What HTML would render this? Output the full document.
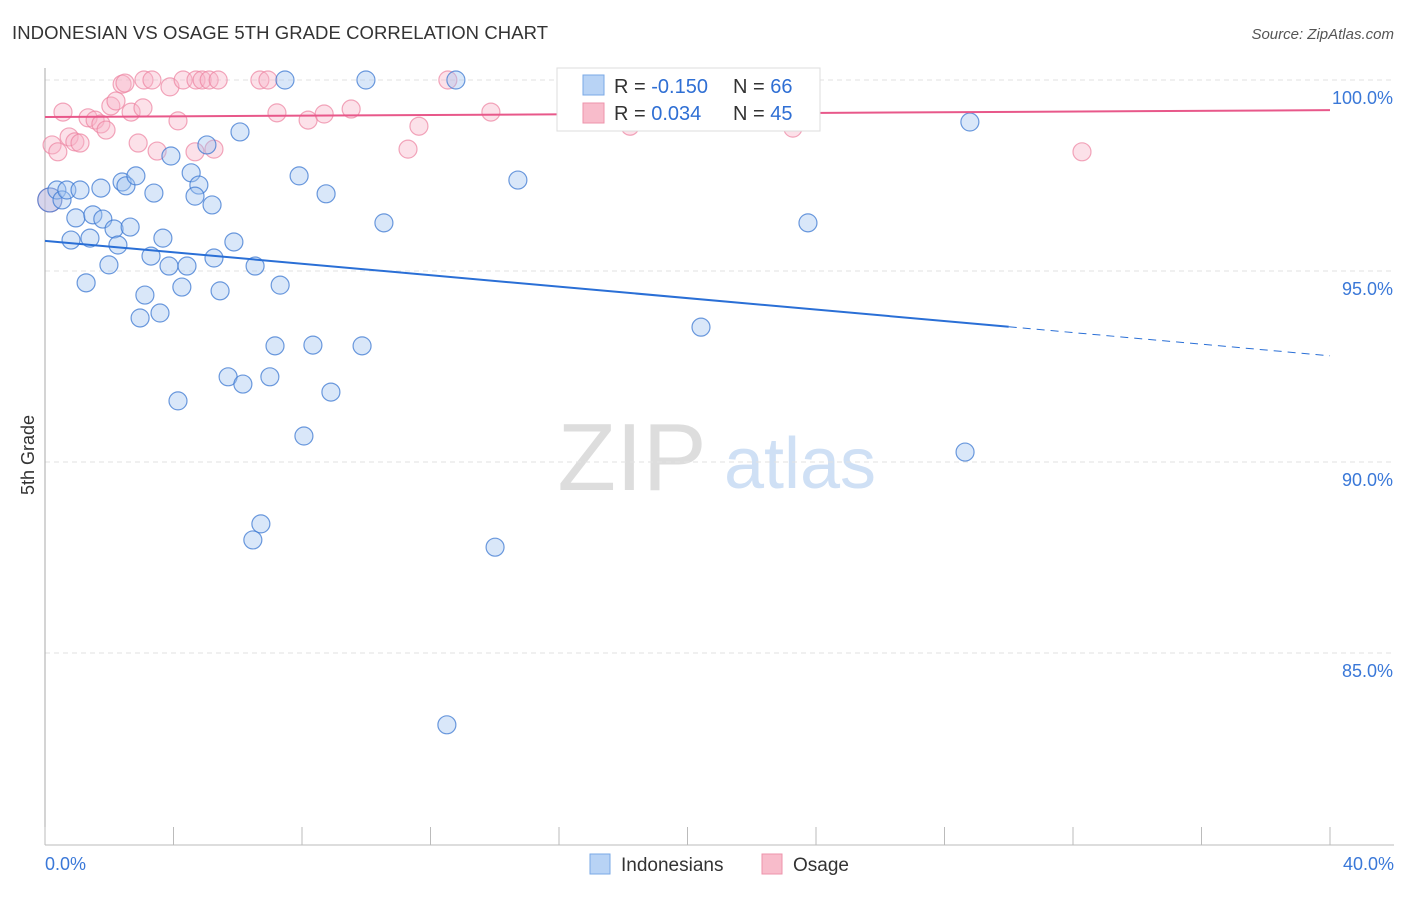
<!DOCTYPE html>
<html><head><meta charset="utf-8"><style>
body{margin:0;background:#fff;font-family:"Liberation Sans",sans-serif;}
svg text{font-family:"Liberation Sans",sans-serif;}
</style></head><body>
<svg id="chart" width="1406" height="892" xmlns="http://www.w3.org/2000/svg">
<text x="12" y="39" font-size="18.5" fill="#333" textLength="536">INDONESIAN VS OSAGE 5TH GRADE CORRELATION CHART</text>
<text x="1394" y="39" font-size="15" fill="#555" text-anchor="end" font-style="italic">Source: ZipAtlas.com</text>
<text x="632" y="490" font-size="96" fill="#ddd" font-family="Liberation Serif" text-anchor="middle">ZIP</text>
<text x="800" y="488" font-size="72" fill="#cfe0f5" text-anchor="middle">atlas</text>
<text transform="translate(34,455) rotate(-90)" font-size="18" fill="#333" text-anchor="middle">5th Grade</text>
<g id="grid"></g><g id="pts"></g><g id="lines"></g>
<g>
<rect x="557" y="68" width="263" height="63" fill="#fff" stroke="#ddd"/>
<rect x="583" y="75" width="21" height="20" fill="#b8d3f5" stroke="#7aa8e6"/>
<rect x="583" y="103" width="21" height="20" fill="#f8bccb" stroke="#ee93ab"/>
<text x="614" y="93" font-size="20" fill="#333">R = <tspan fill="#2f6fd4">-0.150</tspan></text>
<text x="733" y="93" font-size="20" fill="#333">N = <tspan fill="#2f6fd4">66</tspan></text>
<text x="614" y="120" font-size="20" fill="#333">R =  <tspan fill="#2f6fd4">0.034</tspan></text>
<text x="733" y="120" font-size="20" fill="#333">N = <tspan fill="#2f6fd4">45</tspan></text>
</g>
<g>
<rect x="590" y="854" width="20" height="20" fill="#b8d3f5" stroke="#7aa8e6"/>
<text x="621" y="871" font-size="19" fill="#333">Indonesians</text>
<rect x="762" y="854" width="20" height="20" fill="#f8bccb" stroke="#ee93ab"/>
<text x="793" y="871" font-size="19" fill="#333">Osage</text>
</g>
<text x="45" y="870" font-size="18" fill="#3a78d8">0.0%</text>
<text x="1394" y="870" font-size="18" fill="#3a78d8" text-anchor="end">40.0%</text>
</svg>
<script>
const yTicks=[100,95,90,85];
const blueX=[0.15,0.37,0.53,0.68,1.09,1.74,2.40,2.52,2.83,3.39,3.92,4.55,4.79,4.67,5.20,5.04,6.07,7.91,8.75,7.47,9.99,12.79,10.55,14.72,23.75,28.79,0.96,1.49,1.80,2.15,2.65,0.81,1.40,2.27,3.67,5.88,1.99,3.30,3.86,4.42,5.26,6.54,1.28,3.11,4.26,5.45,7.32,2.96,3.58,7.16,8.34,9.87,5.70,6.16,7.00,4.14,8.90,8.06,6.72,6.47,14.01,12.51,20.42,28.64,18.83];
const blueY=[96.86,97.12,96.86,97.12,97.12,97.17,97.33,97.23,97.49,97.04,98.01,97.57,97.25,96.96,96.73,98.30,98.64,97.49,97.02,100,100,100,96.26,97.38,96.26,98.90,96.39,96.47,96.36,96.10,96.15,95.81,95.86,95.68,95.86,95.76,95.16,95.39,95.13,95.13,95.34,95.13,94.69,94.37,94.58,94.48,94.63,93.77,93.90,93.04,93.06,93.04,92.23,92.04,92.23,91.60,91.83,90.68,88.38,87.96,87.77,83.12,93.53,90.26,100];
const pinkX=[0.22,0.40,0.56,0.75,0.93,1.09,1.34,1.56,1.74,1.90,2.05,2.21,2.40,2.49,2.68,2.90,3.05,3.08,3.33,3.49,3.89,4.14,4.30,4.70,4.89,5.11,5.39,4.67,5.26,6.69,6.94,7.22,8.19,8.69,9.53,11.30,11.64,12.54,13.88,18.21,23.28,32.28,22.72,17.12,0.15];
const pinkY=[98.3,98.12,99.16,98.51,98.38,98.35,99.01,98.95,98.85,98.69,99.32,99.45,99.89,99.92,99.16,98.35,99.27,100,100,98.14,99.82,98.93,100,100,100,100,100,98.12,98.19,100,100,99.14,98.95,99.11,99.24,98.19,98.79,100,99.16,98.79,98.74,98.12,100,99.14,96.86];
const blueTrend=[95.79,93.54,92.78];
const pinkTrend=[99.03,99.21];
const X=v=>45+v*32.125, Y=v=>80+(100-v)*38.2;
const NS="http://www.w3.org/2000/svg";
function mk(t,a,p){const e=document.createElementNS(NS,t);for(const k in a)e.setAttribute(k,a[k]);p.appendChild(e);return e;}
const grid=document.getElementById('grid');
yTicks.forEach(t=>{
 const l=mk('line',{x1:45,x2:1394,y1:Y(t),y2:Y(t),stroke:'#e2e2e2','stroke-dasharray':'5,4'},grid);
 
 
 const tx=mk('text',{x:1393,y:Y(t)+24,'font-size':18,fill:'#3a78d8','text-anchor':'end'},grid);
 tx.textContent=t.toFixed(1)+'%';
 
 
});
const ax=mk('line',{x1:45,x2:45,y1:68,y2:845,stroke:'#aaa'},grid);


const bx=mk('line',{x1:45,x2:1394,y1:845,y2:845,stroke:'#bbb'},grid);


for(let i=0;i<=10;i++){const t=mk('line',{x1:X(i*4),x2:X(i*4),y1:827,y2:845,stroke:'#bbb'},grid);
 
 }
const pts=document.getElementById('pts');
pinkX.forEach((x,i)=>{const c=mk('circle',{cx:X(x),cy:Y(pinkY[i]),r:i==pinkX.length-1?12:9,fill:'rgba(248,180,200,0.4)',stroke:'rgba(236,130,160,0.7)','stroke-width':1.2},pts);
 
 });
blueX.forEach((x,i)=>{const c=mk('circle',{cx:X(x),cy:Y(blueY[i]),r:i==0?12:9,fill:'rgba(160,195,240,0.4)',stroke:'rgba(60,120,210,0.75)','stroke-width':1.2},pts);
 
 });
const lines=document.getElementById('lines');
let l1=mk('line',{x1:X(0),y1:Y(blueTrend[0]),x2:X(30),y2:Y(blueTrend[1]),stroke:'#2a6fd6','stroke-width':2},lines);


let l2=mk('line',{x1:X(30),y1:Y(blueTrend[1]),x2:X(40),y2:Y(blueTrend[2]),stroke:'#2a6fd6','stroke-width':1,'stroke-dasharray':'8,6'},lines);


let l3=mk('line',{x1:X(0),y1:Y(pinkTrend[0]),x2:X(40),y2:Y(pinkTrend[1]),stroke:'#e8588a','stroke-width':2},lines);


</script>
</body></html>
